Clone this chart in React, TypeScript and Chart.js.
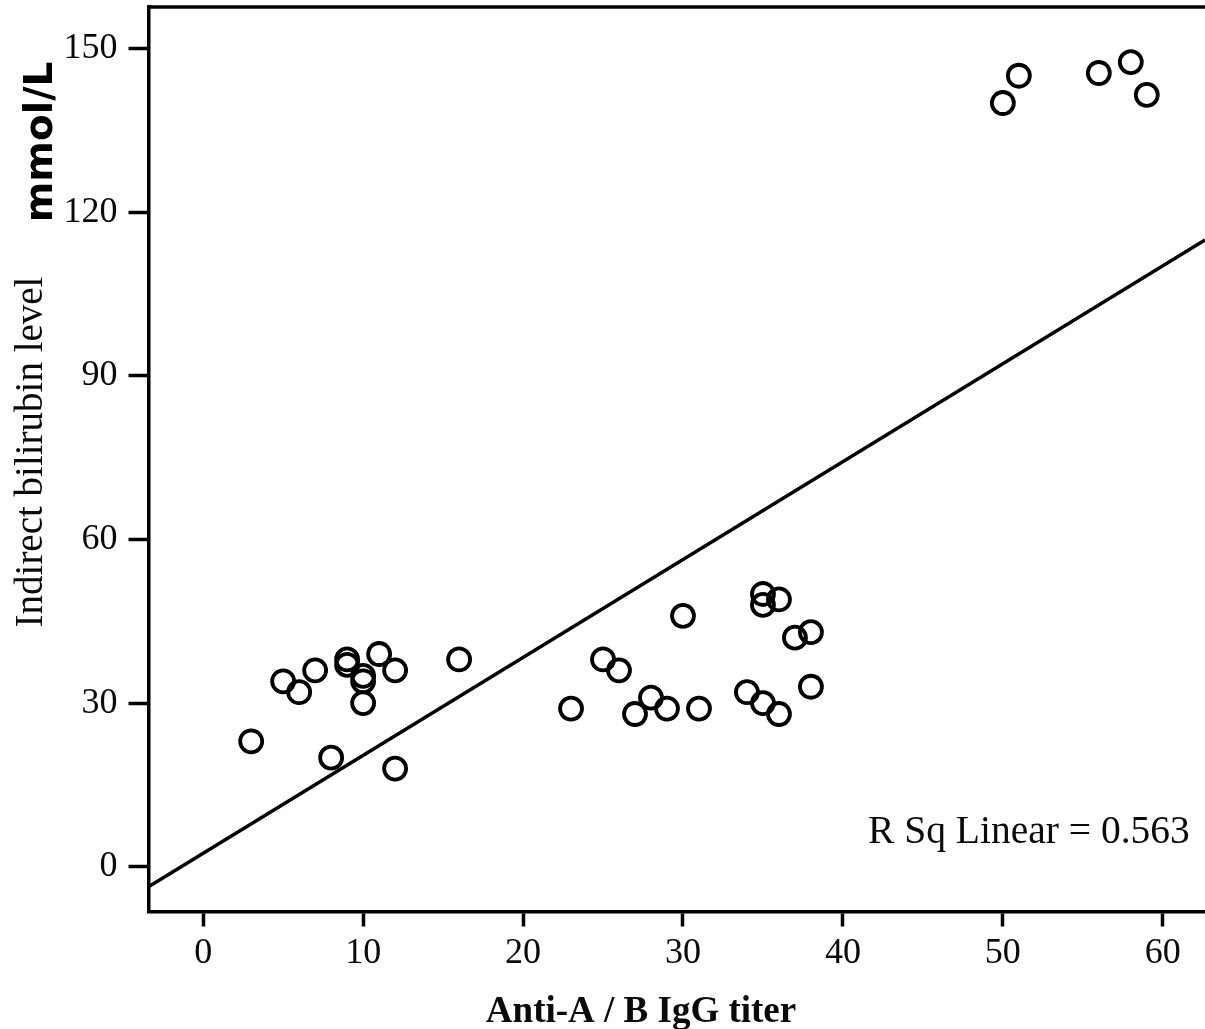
import React, { useEffect, useRef } from "react";
import { Chart, registerables } from "chart.js";

Chart.register(...registerables);

// Anti-A / B IgG titer (x) and indirect bilirubin level (y)
const titerX = [3, 5, 6, 7, 8, 9, 9, 10, 10, 10, 11, 12, 12, 16, 23, 25, 26, 27, 28, 29, 30, 31, 34, 35, 35, 35, 36, 36, 37, 38, 38, 50, 51, 56, 58, 59];
const bilirubinY = [23, 34, 32, 36, 20, 38, 37, 35, 34, 30, 39, 36, 18, 38, 29, 38, 36, 28, 31, 29, 46, 29, 32, 30, 50, 48, 49, 28, 42, 43, 33, 140, 145, 145.5, 147.5, 141.5];

// Linear fit line endpoints (R² = 0.563)
const fitX = [-3.42, 62.64];
const fitY = [-3.67, 114.9];

const xTickValues = [0, 10, 20, 30, 40, 50, 60];
const yTickValues = [0, 30, 60, 90, 120, 150];

const xRange = [-3.42, 62.64];
const yRange = [-8.2, 157.6];

const xTitle = "Anti-A / B IgG titer";
const yTitle = "Indirect bilirubin level";
const unitLabel = "mmol/L";
const rSqLabel = "R Sq Linear = 0.563";

const SERIF = "'Liberation Serif', 'Times New Roman', serif";

const textPlugin = {
  id: "customText",
  afterDraw(chart: any) {
    const { ctx, chartArea } = chart;
    ctx.save();
    // top border
    ctx.strokeStyle = "#000";
    ctx.lineWidth = 3.5;
    ctx.beginPath();
    ctx.moveTo(chartArea.left, chartArea.top);
    ctx.lineTo(chartArea.right, chartArea.top);
    ctx.stroke();

    ctx.fillStyle = "#0a0a0a";
    // x title
    ctx.font = `bold 37px ${SERIF}`;
    ctx.textAlign = "center";
    ctx.textBaseline = "alphabetic";
    ctx.fillText(xTitle, 641, 1022);

    // R Sq annotation
    ctx.font = `39.5px ${SERIF}`;
    ctx.textAlign = "left";
    ctx.fillText(rSqLabel, 868, 843);

    // y title (rotated)
    ctx.save();
    ctx.translate(42, 452);
    ctx.rotate(-Math.PI / 2);
    ctx.font = `39px ${SERIF}`;
    ctx.textAlign = "center";
    ctx.textBaseline = "alphabetic";
    ctx.fillText(yTitle, 0, 0);
    ctx.restore();

    // unit label (rotated)
    ctx.save();
    ctx.translate(52, 142);
    ctx.rotate(-Math.PI / 2);
    ctx.fillStyle = "#000";
    ctx.font = "bold 39px 'DejaVu Sans', sans-serif";
    ctx.textAlign = "center";
    ctx.textBaseline = "alphabetic";
    ctx.fillText(unitLabel, 0, 0);
    ctx.restore();

    ctx.restore();
  },
};

export default function App() {
  const canvasRef = useRef<HTMLCanvasElement | null>(null);

  useEffect(() => {
    if (!canvasRef.current) return;
    const points = titerX.map((x, i) => ({ x, y: bilirubinY[i] }));
    const fit = fitX.map((x, i) => ({ x, y: fitY[i] }));
    const chart = new Chart(canvasRef.current, {
      type: "scatter",
      data: {
        datasets: [
          {
            label: "Fit",
            type: "line",
            data: fit,
            borderColor: "#000",
            borderWidth: 3.5,
            pointRadius: 0,
            fill: false,
            showLine: true,
          } as any,
          {
            label: "Observed",
            data: points,
            pointRadius: 11,
            pointBorderWidth: 3.8,
            pointBorderColor: "#000",
            pointBackgroundColor: "rgba(0,0,0,0)",
            borderColor: "#000",
            backgroundColor: "rgba(0,0,0,0)",
          },
        ],
      },
      options: {
        responsive: false,
        devicePixelRatio: 1,
        animation: false,
        layout: { autoPadding: false, padding: { top: 7, left: 0, right: 0, bottom: 0 } },
        plugins: {
          legend: { display: false },
          tooltip: { enabled: false },
        },
        scales: {
          x: {
            type: "linear",
            min: xRange[0],
            max: xRange[1],
            afterFit: (scale: any) => {
              scale.height = 117.5;
              scale.paddingLeft = 0;
              scale.paddingRight = 0;
            },
            afterBuildTicks: (scale: any) => {
              scale.ticks = xTickValues.map((v) => ({ value: v }));
            },
            grid: {
              display: true,
              drawOnChartArea: false,
              drawTicks: true,
              tickLength: 15,
              tickWidth: 3.5,
              tickColor: "#000",
            },
            border: { display: true, color: "#000", width: 3.5 },
            ticks: {
              includeBounds: false,
              padding: 5,
              color: "#0a0a0a",
              font: { family: SERIF, size: 36 },
            },
          },
          y: {
            type: "linear",
            min: yRange[0],
            max: yRange[1],
            afterFit: (scale: any) => {
              scale.width = 148.5;
              scale.paddingTop = 0;
              scale.paddingBottom = 0;
            },
            afterBuildTicks: (scale: any) => {
              scale.ticks = yTickValues.map((v) => ({ value: v }));
            },
            grid: {
              display: true,
              drawOnChartArea: false,
              drawTicks: true,
              tickLength: 20,
              tickWidth: 3.5,
              tickColor: "#000",
            },
            border: { display: true, color: "#000", width: 3.5 },
            ticks: {
              includeBounds: false,
              padding: 11,
              color: "#0a0a0a",
              font: { family: SERIF, size: 36 },
            },
          },
        },
      },
      plugins: [textPlugin],
    });
    return () => chart.destroy();
  }, []);

  return (
    <div
      style={{
        position: "fixed",
        left: 0,
        top: 0,
        width: 1205,
        height: 1029,
        background: "#fff",
      }}
    >
      <canvas ref={canvasRef} width={1205} height={1029} />
    </div>
  );
}
